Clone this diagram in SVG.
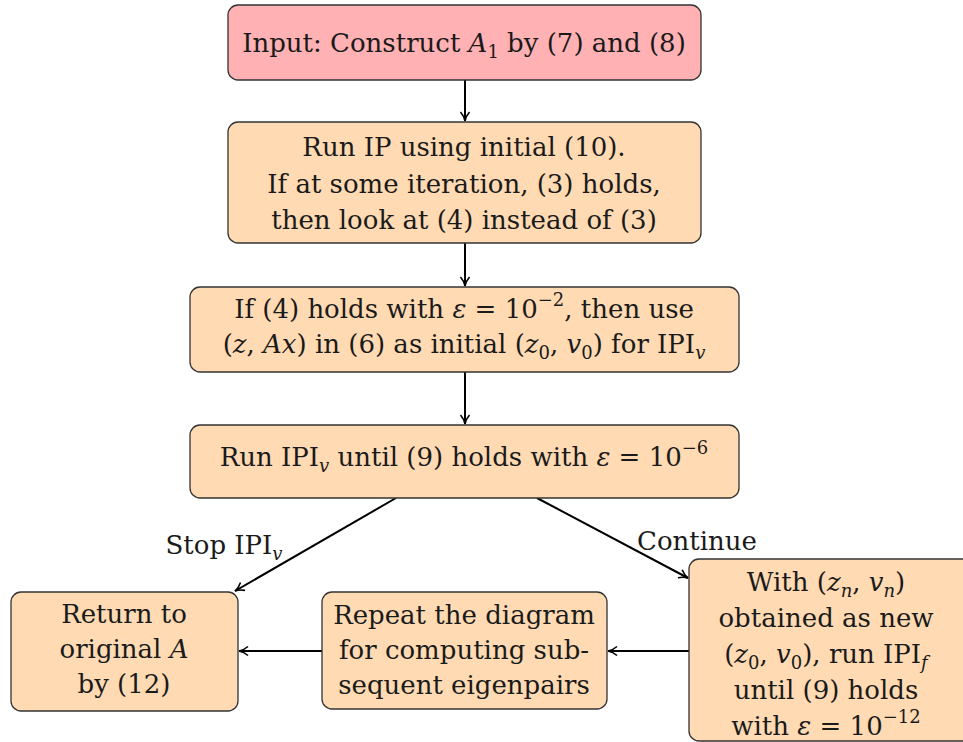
<svg xmlns="http://www.w3.org/2000/svg" width="963" height="742" viewBox="0 0 963 742">
<defs>
<marker id="arr" viewBox="0 0 12 12" refX="11" refY="6" markerWidth="12" markerHeight="12" markerUnits="userSpaceOnUse" orient="auto">
<path d="M2,1.5 Q6,5 11,6 Q6,7 2,10.5" fill="none" stroke="#000" stroke-width="1.6"/>
</marker>
<style>
.box{stroke:#333;stroke-width:1.3}
.pink{fill:#ffb1b3}
.org{fill:#ffdab3}
text{font-family:'DejaVu Serif','Liberation Serif',serif;font-size:26px;fill:#1a1a1a;text-anchor:middle}
.i{font-style:italic}
.s{font-size:18px}
.e{stroke:#000;stroke-width:2;fill:none;marker-end:url(#arr)}
</style>
</defs>
<g id="edges">
<line class="e" x1="465" y1="80" x2="465" y2="121"/>
<line class="e" x1="465" y1="243" x2="465" y2="286"/>
<line class="e" x1="465" y1="372" x2="465" y2="424"/>
<line class="e" x1="396" y1="498" x2="235" y2="591"/>
<line class="e" x1="537" y1="498" x2="688" y2="578"/>
<line class="e" x1="689" y1="651" x2="608" y2="651"/>
<line class="e" x1="322" y1="651" x2="239" y2="651"/>
<text x="224" y="554">Stop IPI<tspan class="s i" dy="6">v</tspan></text>
<text x="697" y="550">Continue</text>
</g>
<g id="n1">
<rect class="box pink" x="228" y="5" width="473" height="75" rx="10"/>
<text x="464" y="52">Input: Construct <tspan class="i">A</tspan><tspan class="s" dy="6">1</tspan><tspan dy="-6"> by (7) and (8)</tspan></text>
</g>
<g id="n2">
<rect class="box org" x="228" y="122" width="473" height="121" rx="10"/>
<text x="464" y="156">Run IP using initial (10).</text>
<text x="464" y="193">If at some iteration, (3) holds,</text>
<text x="464" y="229">then look at (4) instead of (3)</text>
</g>
<g id="n3">
<rect class="box org" x="190" y="287" width="549" height="85" rx="10"/>
<text x="464" y="318">If (4) holds with <tspan class="i">ε</tspan> = 10<tspan class="s" dy="-12">−2</tspan><tspan dy="12">, then use</tspan></text>
<text x="464" y="353">(<tspan class="i">z</tspan>, <tspan class="i">Ax</tspan>) in (6) as initial (<tspan class="i">z</tspan><tspan class="s" dy="6">0</tspan><tspan dy="-6">, </tspan><tspan class="i">v</tspan><tspan class="s" dy="6">0</tspan><tspan dy="-6">) for IPI</tspan><tspan class="s i" dy="6">v</tspan></text>
</g>
<g id="n4">
<rect class="box org" x="190" y="425" width="549" height="73" rx="10"/>
<text x="464" y="466">Run IPI<tspan class="s i" dy="6">v</tspan><tspan dy="-6">  until (9) holds with </tspan><tspan class="i">ε</tspan> = 10<tspan class="s" dy="-12">−6</tspan></text>
</g>
<g id="n5">
<rect class="box org" x="11" y="592" width="227" height="119" rx="10"/>
<text x="124" y="623">Return to</text>
<text x="124" y="658">original <tspan class="i">A</tspan></text>
<text x="124" y="693">by (12)</text>
</g>
<g id="n6">
<rect class="box org" x="322" y="592" width="285" height="117" rx="10"/>
<text x="464" y="624">Repeat the diagram</text>
<text x="464" y="659">for computing sub-</text>
<text x="464" y="694">sequent eigenpairs</text>
</g>
<g id="n7">
<rect class="box org" x="689" y="559" width="285" height="182" rx="10"/>
<text x="826" y="591">With (<tspan class="i">z</tspan><tspan class="s i" dy="6">n</tspan><tspan dy="-6">, </tspan><tspan class="i">v</tspan><tspan class="s i" dy="6">n</tspan><tspan dy="-6">)</tspan></text>
<text x="826" y="627">obtained as new</text>
<text x="826" y="663">(<tspan class="i">z</tspan><tspan class="s" dy="6">0</tspan><tspan dy="-6">, </tspan><tspan class="i">v</tspan><tspan class="s" dy="6">0</tspan><tspan dy="-6">), run IPI</tspan><tspan class="s i" dy="6">f</tspan></text>
<text x="826" y="699">until (9) holds</text>
<text x="826" y="735">with <tspan class="i">ε</tspan> = 10<tspan class="s" dy="-12">−12</tspan></text>
</g>
</svg>
